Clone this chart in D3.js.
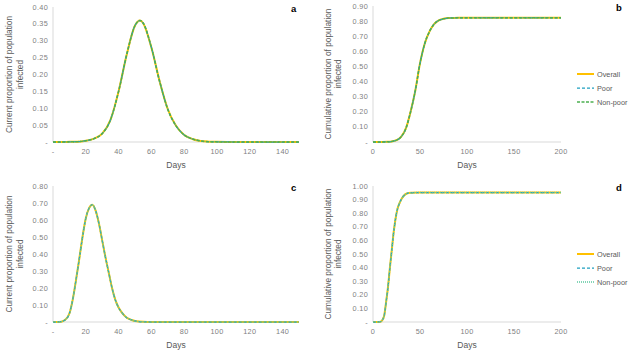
<!DOCTYPE html>
<html><head><meta charset="utf-8">
<script src="https://cdn.jsdelivr.net/npm/d3@7"></script>
<style>body{margin:0;background:#fff}svg{display:block}text{font-family:"Liberation Sans",Arial,sans-serif}</style>
</head><body><svg id="c" width="633" height="353"></svg>
<script>
// Panel a: current proportion infected (scenario 1)
const daysA = [0,5,10,15,20,25,30,35,40,45,50,53,55,60,65,70,75,80,85,90,95,100,110,120,130,140,150];
const valsA = [0,0,0.0005,0.001,0.004,0.01,0.025,0.065,0.15,0.26,0.345,0.36,0.352,0.28,0.18,0.097,0.048,0.021,0.009,0.003,0.001,0.0004,0,0,0,0,0];
// Panel b: cumulative proportion infected (scenario 1)
const daysB = [0,5,10,15,20,25,30,35,40,45,50,55,60,65,70,75,80,85,90,100,120,150,200];
const valsB = [0,0,0,0.001,0.004,0.012,0.035,0.09,0.2,0.34,0.52,0.65,0.73,0.78,0.805,0.815,0.82,0.821,0.822,0.822,0.822,0.822,0.822];
// Panel c: current proportion infected (scenario 2)
const daysC = [0,2,5,7,10,12,14,16,18,20,22,24,26,28,30,32,34,36,38,40,42,45,48,50,55,60,80,100,150];
const valsC = [0,0,0.002,0.01,0.05,0.13,0.245,0.37,0.5,0.61,0.67,0.69,0.655,0.58,0.48,0.38,0.29,0.2,0.13,0.085,0.055,0.025,0.012,0.006,0.001,0,0,0,0];
// Panel d: cumulative proportion infected (scenario 2)
const daysD = [0,5,8,10,12,14,16,18,20,22,24,26,28,30,33,36,40,50,100,150,200];
const valsD = [0,0,0.002,0.015,0.05,0.15,0.26,0.4,0.53,0.66,0.76,0.83,0.87,0.9,0.93,0.945,0.95,0.952,0.952,0.952,0.952];
// groups (visually identical in the source)
const poorA = valsA, nonpoorA = valsA;
const poorB = valsB, nonpoorB = valsB;
const poorC = valsC, nonpoorC = valsC;
const poorD = valsD, nonpoorD = valsD;

const yTicksA = [0,0.05,0.10,0.15,0.20,0.25,0.30,0.35,0.40];
const yTicksB = [0,0.10,0.20,0.30,0.40,0.50,0.60,0.70,0.80,0.90];
const yTicksC = [0,0.10,0.20,0.30,0.40,0.50,0.60,0.70,0.80];
const yTicksD = [0,0.10,0.20,0.30,0.40,0.50,0.60,0.70,0.80,0.90,1.00];
const xTicksAC = [0,20,40,60,80,100,120,140];
const xTicksBD = [0,50,100,150,200];
const legendLabels = ["Overall","Poor","Non-poor"];

const svg = d3.select("#c");
const gray = "#595959", tgray = "#7f7f7f";

function panel(o){
  const x = d3.scaleLinear().domain([0,o.xmax]).range([o.l,o.r]);
  const y = d3.scaleLinear().domain([0,o.ymax]).range([o.b,o.t]);
  const g = svg.append("g");
  g.append("line").attr("x1",o.l).attr("x2",o.l).attr("y1",o.t).attr("y2",o.b).attr("stroke","#d9d9d9").attr("stroke-width",1);
  g.append("line").attr("x1",o.l).attr("x2",o.r).attr("y1",o.b).attr("y2",o.b).attr("stroke","#d9d9d9").attr("stroke-width",1);
  o.yt.forEach(v=>{
    g.append("text").attr("x",o.l-5).attr("y",y(v)+2.5).attr("text-anchor","end")
     .attr("font-size",7.3).attr("letter-spacing",0.3).attr("fill",tgray).text(v===0?"-":v.toFixed(2));
  });
  o.xt.forEach(v=>{
    g.append("text").attr("x",x(v)).attr("y",o.b+12).attr("text-anchor","middle")
     .attr("font-size",7.3).attr("letter-spacing",0.3).attr("fill",tgray).text(v===0&&o.dash0?"-":v);
  });
  g.append("text").attr("x",(o.l+o.r)/2).attr("y",o.b+26).attr("text-anchor","middle")
   .attr("font-size",8.5).attr("fill",gray).text("Days");
  const cy=(o.t+o.b)/2;
  o.yl.forEach((s,i)=>{
    g.append("text").attr("transform",`translate(${o.ylx[i]},${cy}) rotate(-90)`).attr("text-anchor","middle")
     .attr("dominant-baseline","middle").attr("font-size",8.3).attr("fill",gray).text(s);
  });
  g.append("text").attr("x",o.lx).attr("y",o.t+5).attr("font-size",9.5).attr("font-weight","bold").attr("fill","#000").text(o.letter);
  const line = d3.line().x((d,i)=>x(o.days[i])).y(d=>y(d)).curve(d3.curveMonotoneX);
  const styles = o.styles;
  [o.vals,o.poor,o.nonpoor].forEach((arr,k)=>{
    g.append("path").attr("d",line(arr)).attr("fill","none").attr("stroke",styles[k].c)
     .attr("stroke-width",styles[k].w).attr("stroke-dasharray",styles[k].d);
  });
  if(o.legend){
    legendLabels.forEach((s,k)=>{
      const ly=o.legend.y+k*14;
      g.append("line").attr("x1",o.legend.x).attr("x2",o.legend.x+17).attr("y1",ly).attr("y2",ly)
       .attr("stroke",styles[k].c).attr("stroke-width",styles[k].w).attr("stroke-dasharray",styles[k].d);
      g.append("text").attr("x",o.legend.x+20).attr("y",ly+2.5).attr("font-size",7.3).attr("fill",gray).text(s);
    });
  }
}
const st1=[{c:"#FFC000",w:2,d:null},{c:"#1FA0C0",w:1.25,d:"3,2"},{c:"#4CB050",w:1.5,d:"3,1.5"}];
const st2=[{c:"#FFC000",w:2,d:null},{c:"#1FA0C0",w:1.25,d:"3,2"},{c:"#5CC8A0",w:1.5,d:"1,1"}];
const yl1=["Current proportion of population","infected"];
const yl2=["Cumulative proportion of population","infected"];
panel({l:53,r:299,t:7,b:142,xmax:150,ymax:0.40,yt:yTicksA,xt:xTicksAC,dash0:true,days:daysA,vals:valsA,poor:poorA,nonpoor:nonpoorA,styles:st1,yl:yl1,ylx:[10,21],letter:"a",lx:291});
panel({l:373,r:561,t:6,b:142,xmax:200,ymax:0.90,yt:yTicksB,xt:xTicksBD,dash0:false,days:daysB,vals:valsB,poor:poorB,nonpoor:nonpoorB,styles:st1,yl:yl2,ylx:[329,339],letter:"b",lx:616,legend:{x:577,y:74}});
panel({l:53,r:299,t:186,b:322,xmax:150,ymax:0.80,yt:yTicksC,xt:xTicksAC,dash0:true,days:daysC,vals:valsC,poor:poorC,nonpoor:nonpoorC,styles:st2,yl:yl1,ylx:[10,21],letter:"c",lx:291});
panel({l:373,r:561,t:186,b:322,xmax:200,ymax:1.00,yt:yTicksD,xt:xTicksBD,dash0:false,days:daysD,vals:valsD,poor:poorD,nonpoor:nonpoorD,styles:st2,yl:yl2,ylx:[329,339],letter:"d",lx:616,legend:{x:577,y:254}});
</script></body></html>
